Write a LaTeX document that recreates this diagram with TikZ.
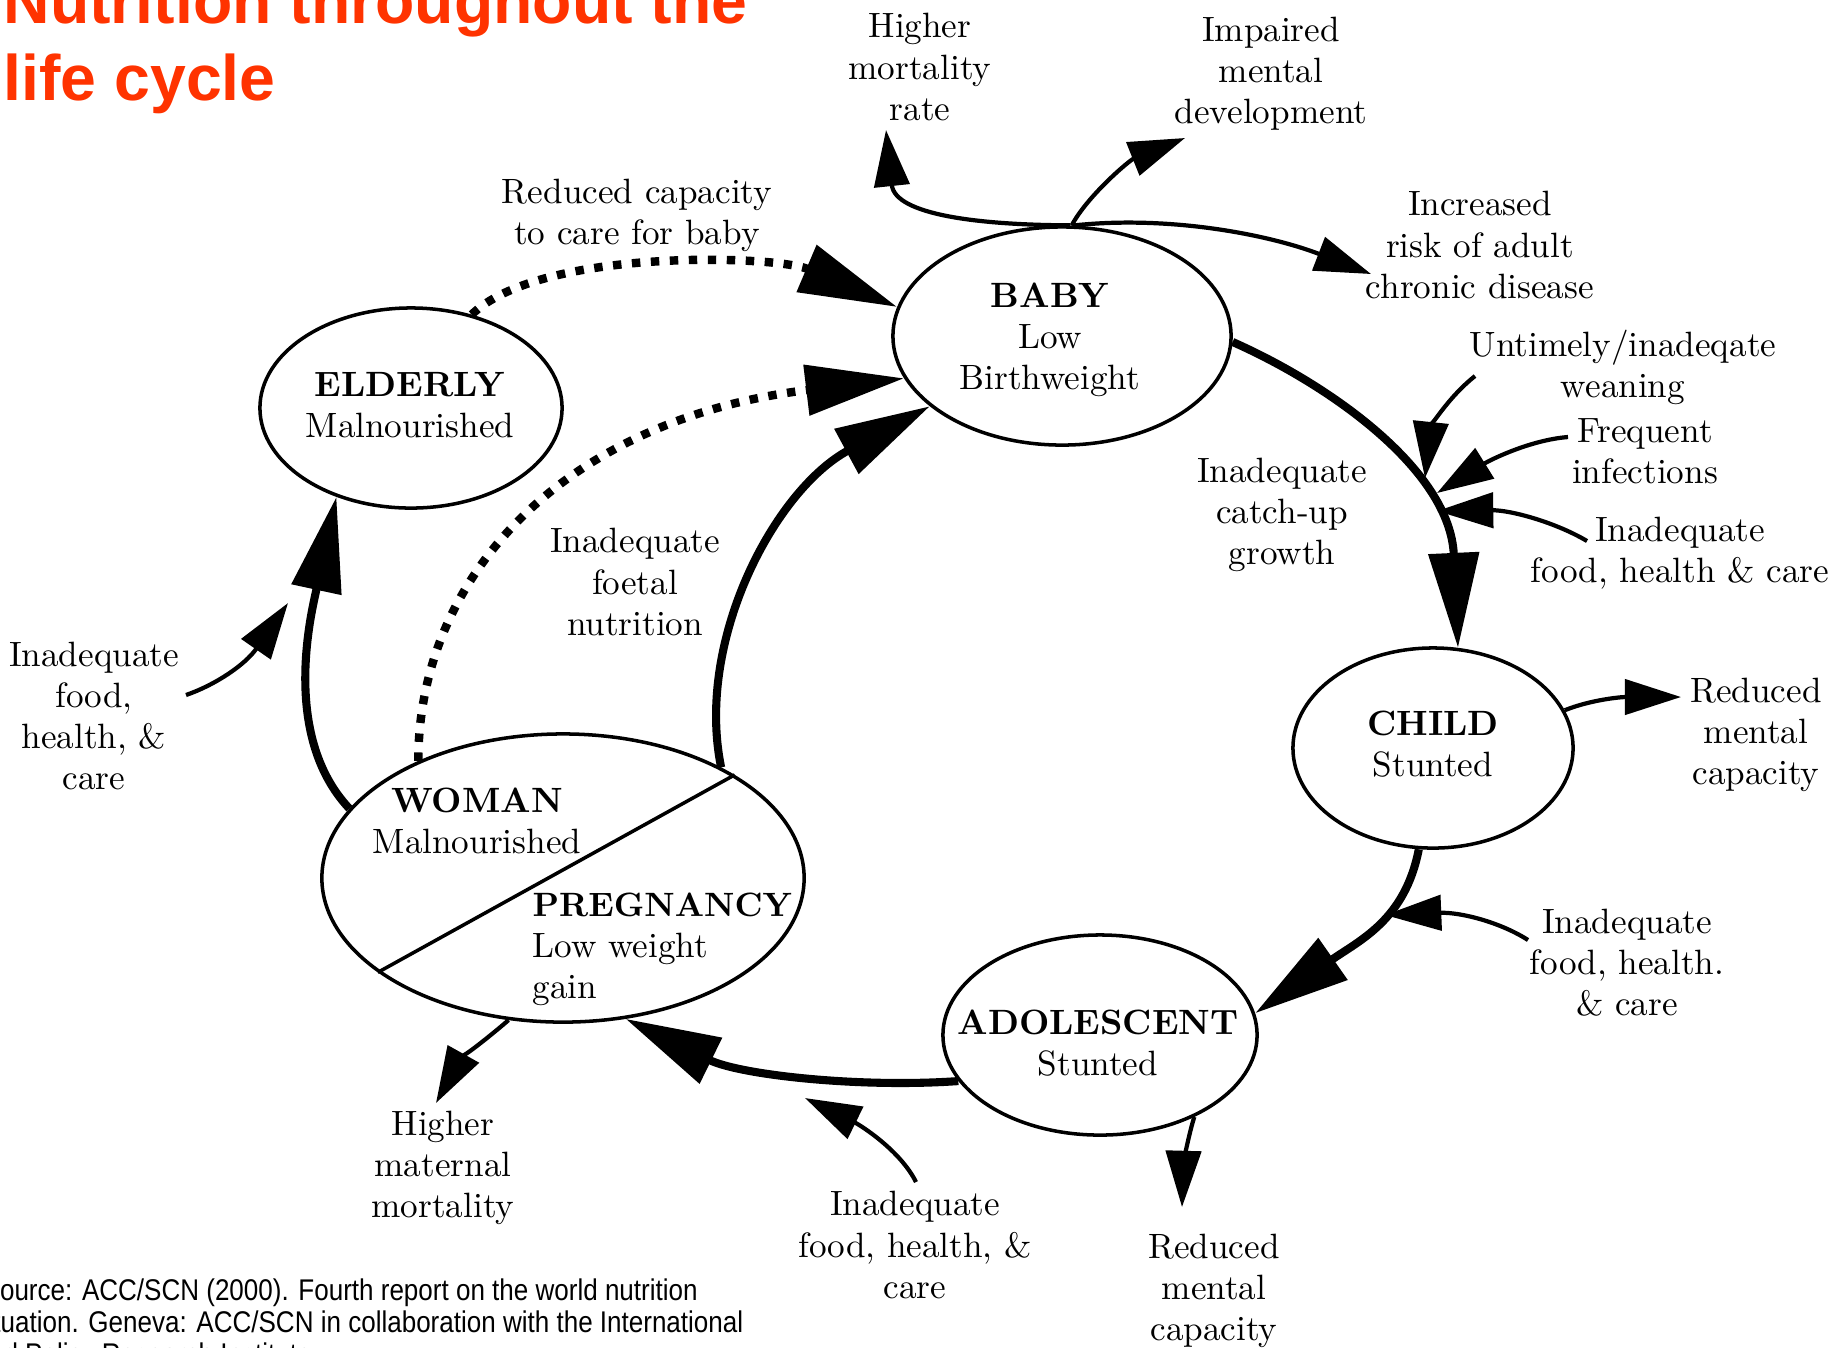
\documentclass[tikz,border=0pt]{standalone}
\usepackage{fontspec}
\newfontfamily\arialfont{Liberation Sans}
\usetikzlibrary{arrows.meta,shapes.geometric}
\definecolor{titlered}{RGB}{255,51,0}
\tikzset{
  stage/.style={draw, ellipse, line width=1pt, inner sep=0pt},
  lbl/.style={align=center, inner sep=0pt, font=\fontsize{10}{11.7}\selectfont},
  cyc/.style={line width=2.3pt, -{Triangle[length=27pt,width=14pt]}},
  dotcyc/.style={line width=2.4pt, dash pattern=on 2.4pt off 3pt, -{Triangle[length=28pt,width=14pt]}},
  thinarr/.style={line width=1.2pt, -{Triangle[length=16pt,width=10pt]}},
  titletext/.style={anchor=base west, inner sep=0pt, text=titlered, font=\arialfont\bfseries\fontsize{18.3}{22}\selectfont},
  srctext/.style={anchor=base west, inner sep=0pt, transform shape, font=\arialfont\fontsize{7.4}{8}\selectfont}
}
\begin{document}
\begin{tikzpicture}[x=0.01cm,y=-0.01cm]
\useasboundingbox (0,0) rectangle (1843,1347);
\fill[white] (0,0) rectangle (1843,1347);
\clip (0,0) rectangle (1843,1347);

% title
\node[titletext] (title1) at (3,23) {Nutrition throughout the};
\node[titletext] (title2) at (3,100) {life cycle};

% source
\begin{scope}[shift={(0,1300)}, yscale=1.15]
\node[srctext] (src1) at (-18,0) {Source: ACC/SCN (2000). Fourth report on the world nutrition};
\node[srctext] (src2) at (-26,28) {situation. Geneva: ACC/SCN in collaboration with the International};
\node[srctext] (src3) at (-42,56) {Food Policy Research Institute.};
\end{scope}

% stages
\node[stage, minimum width=3.38cm, minimum height=2.18cm] (baby) at (1062,336) {};
\node[stage, minimum width=3.02cm, minimum height=2.00cm] (elderly) at (411,408) {};
\node[stage, minimum width=2.80cm, minimum height=2.00cm] (child) at (1433,748) {};
\node[stage, minimum width=3.14cm, minimum height=2.00cm] (adol) at (1100,1035) {};
\node[stage, minimum width=4.82cm, minimum height=2.88cm] (woman) at (563,878) {};
\draw[line width=1pt] (woman.207) -- (woman.31);

\node[lbl] (babytxt) at (1050,340) {\textbf{BABY}\\Low\\Birthweight};
\node[lbl] (eldtxt) at (410,405) {\textbf{ELDERLY}\\Malnourished};
\node[lbl] (childtxt) at (1433,744) {\textbf{CHILD}\\Stunted};
\node[lbl] (adoltxt) at (1098,1043) {\textbf{ADOLESCENT}\\Stunted};
\node[lbl] (womantxt) at (477,821) {\textbf{WOMAN}\\Malnourished};
\node[lbl, align=left, anchor=west] (pregtxt) at (532,949) {{\fontsize{9.6}{11.7}\selectfont\textbf{PREGNANCY}}\\Low weight\\gain};

% labels
\node[lbl] (l_mort) at (920,67) {Higher\\mortality\\rate};
\node[lbl] (l_imp) at (1271,74) {Impaired\\mental\\development};
\node[lbl] (l_inc) at (1480,245) {Increased\\risk of adult\\chronic disease};
\node[lbl] (l_care) at (637,215) {Reduced capacity\\to care for baby};
\node[lbl] (l_unt) at (1623,367) {Untimely/inadeqate\\weaning};
\node[lbl] (l_freq) at (1645,451) {Frequent\\infections};
\node[lbl] (l_chfood) at (1680,553) {Inadequate\\food, health \& care};
\node[lbl] (l_catch) at (1282,515) {Inadequate\\catch-up\\growth};
\node[lbl] (l_foet) at (635,582) {Inadequate\\foetal\\nutrition};
\node[lbl] (l_eldfood) at (94,716) {Inadequate\\food,\\health, \&\\care};
\node[lbl] (l_chred) at (1756,735) {Reduced\\mental\\capacity};
\node[lbl] (l_adfood) at (1627,963) {Inadequate\\food, health.\\\& care};
\node[lbl] (l_mat) at (443,1168) {Higher\\maternal\\mortality};
\node[lbl] (l_botfood) at (915,1245) {Inadequate\\food, health, \&\\care};
\node[lbl] (l_botred) at (1214,1291) {Reduced\\mental\\capacity};

% cycle connectors
\draw[dotcyc] (elderly.57) .. controls (540,248) and (775,255) .. (baby.170);
\draw[dotcyc] (woman.141) .. controls (418,580) and (560,420) .. (baby.195);
\draw[cyc] (woman.35) .. controls (695,640) and (775,490) .. (baby.208);
\draw[cyc] (woman.162) .. controls (280,735) and (312,610) .. (elderly.230);
\draw[cyc] (adol.198) .. controls (860,1088) and (740,1075) .. (woman.-66);
\draw[cyc] (baby.-2) .. controls (1330,385) and (1450,470) .. (child.76);
\draw[cyc] (child.-98) .. controls (1405,920) and (1360,940) .. (adol.8);

% free ends
\coordinate (mortTip) at (886,130);
\coordinate (impTip) at (1185,138);
\coordinate (incTip) at (1371,274);
\coordinate (chOutTip) at (1681,697);
\coordinate (adOutTip) at (1182,1207);
\coordinate (womOutTip) at (436,1103);
\coordinate (eldFoodS) at (186,695);
\coordinate (eldFoodT) at (288,603);
\coordinate (botFoodS) at (916,1182);
\coordinate (botFoodT) at (805,1098);
\coordinate (adFoodS) at (1528,940);
\coordinate (adFoodT) at (1385,915);
\coordinate (untS) at (1475,376);
\coordinate (untT) at (1425,478);
\coordinate (freqS) at (1568,437);
\coordinate (freqT) at (1437,493);
\coordinate (chFoodS) at (1587,541);
\coordinate (chFoodT) at (1437,511);

% outcome arrows
\draw[thinarr] (baby.86) .. controls (980,225) and (895,215) .. (mortTip);
\draw[thinarr] (baby.85) .. controls (1088,195) and (1130,160) .. (impTip);
\draw[thinarr] (baby.84) .. controls (1170,215) and (1270,235) .. (incTip);
\draw[thinarr] (child.16) .. controls (1590,700) and (1620,697) .. (chOutTip);
\draw[thinarr] (adol.-41) .. controls (1187,1140) and (1183,1170) .. (adOutTip);
\draw[thinarr] (woman.-111) .. controls (495,1032) and (460,1060) .. (womOutTip);

% cause arrows
\draw[thinarr] (eldFoodS) .. controls (215,685) and (245,665) .. (eldFoodT);
\draw[thinarr] (botFoodS) .. controls (900,1150) and (860,1125) .. (botFoodT);
\draw[thinarr] (adFoodS) .. controls (1500,922) and (1460,912) .. (adFoodT);
\draw[thinarr] (untS) .. controls (1445,400) and (1430,430) .. (untT);
\draw[thinarr] (freqS) .. controls (1530,440) and (1490,460) .. (freqT);
\draw[thinarr] (chFoodS) .. controls (1555,522) and (1510,510) .. (chFoodT);
\end{tikzpicture}
\end{document}
